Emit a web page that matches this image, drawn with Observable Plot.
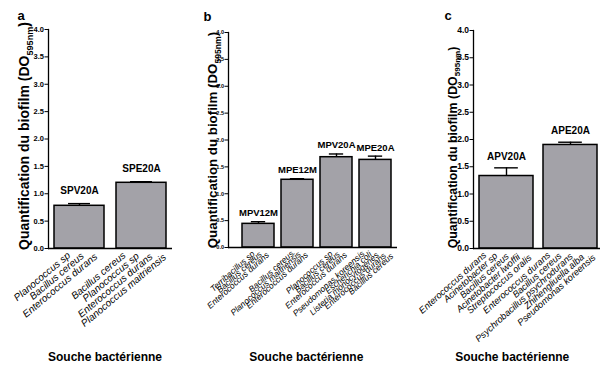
<!DOCTYPE html>
<html>
<head>
<meta charset="utf-8">
<script src="https://cdn.jsdelivr.net/npm/d3@7"></script>
<script src="https://cdn.jsdelivr.net/npm/@observablehq/plot@0.6"></script>
<style>
  html, body { margin: 0; padding: 0; background: #fff; }
  #wrap { position: relative; width: 611px; height: 370px; overflow: hidden; font-family: "Liberation Sans", Arial, sans-serif; }
  #wrap svg { position: absolute; top: 0; overflow: visible; }
</style>
</head>
<body>
<div id="wrap"></div>
<script>
// ---------- data ----------
const yTicks = [0, 0.5, 1, 1.5, 2, 2.5, 3, 3.5, 4];

const aCats = ["SPV20A", "SPE20A"];
const aValues = [0.78, 1.20];
const aErrors = [0.04, 0.02];
const aSpecies = [
  ["Planococcus sp", "Bacillus cereus", "Enterococcus durans"],
  ["Bacillus cereus", "Planococcus sp", "Enterococcus durans", "Planococcus maitriensis"]
];

const bCats = ["MPV12M", "MPE12M", "MPV20A", "MPE20A"];
const bValues = [0.44, 1.26, 1.68, 1.63];
const bErrors = [0.04, 0.02, 0.06, 0.07];
const bSpecies = [
  ["Terribacillus sp", "Bacillus cereus", "Enterococcus durans"],
  ["Bacillus cereus", "Planococcus maitriensis", "Enterococcus durans"],
  ["Planococcus sp", "Bacillus cereus", "Enterococcus durans"],
  ["Pseudomonas koreensis", "Escherichia coli", "Listeria monocytogenes", "Enterococcus durans", "Bacillus cereus"]
];

const cCats = ["APV20A", "APE20A"];
const cValues = [1.33, 1.90];
const cErrors = [0.15, 0.05];
const cSpecies = [
  ["Enterococcus durans", "Acinetobacter sp", "Bacillus cereus", "Acinetobacter lwoffii", "Streptococcus oralis"],
  ["Enterococcus durans", "Bacillus cereus", "Psychrobacillus psychrodurans", "Zhihengliuella alba", "Pseudomonas koreensis"]
];

const panelLetters = ["a", "b", "c"];
const xTitle = "Souche bactérienne";
const yTitleMain = "Quantification du biofilm (DO";
const yTitleSub = "595nm";
const yTitleEnd = ")";

// ---------- layout / style ----------
const FONT = "Liberation Sans, Arial, sans-serif";
const BAR_FILL = "#a3a2a8";

const panels = [
  {cats: aCats, values: aValues, errors: aErrors, species: aSpecies, letter: panelLetters[0],
   left: 0, width: 200, mL: 48, mR: 28, mT: 29, mB: 122, range: [53, 167], pin: 0.19,
   tickFont: 7.5, barFont: 10, barGap: 10, spFont: 10, spacing: 13.5, shift: 5, spDy: 8, rot: -40,
   yTitleX: 29, yTitleCy: 136, yTitleSize: 14, letterX: 17, letterY: 19, xTitleX: 104.5},
  {cats: bCats, values: bValues, errors: bErrors, species: bSpecies, letter: panelLetters[1],
   left: 200, width: 205, mL: 28, mR: 8, mT: 32, mB: 123, range: [41, 191], pin: 0.18,
   tickFont: 5.5, barFont: 9.5, barGap: 5.5, spFont: 8.5, spacing: 7.2, shift: 4, spDy: 7, rot: -42,
   yTitleX: 17, yTitleCy: 140, yTitleSize: 13.3, letterX: 3, letterY: 20, xTitleX: 105.8},
  {cats: cCats, values: cValues, errors: cErrors, species: cSpecies, letter: panelLetters[2],
   left: 405, width: 206, mL: 68, mR: 11, mT: 30, mB: 122, range: [73, 193], pin: 0.15,
   tickFont: 8.5, barFont: 10, barGap: 8, spFont: 9.25, spacing: 11.3, shift: 3, spDy: 7.5, rot: -42,
   yTitleX: 52, yTitleCy: 147.5, yTitleSize: 12.4, letterX: 39, letterY: 19.5, xTitleX: 106.7}
];

const wrap = document.getElementById("wrap");

for (const p of panels) {
  const data = p.cats.map((c, i) => ({cat: c, v: p.values[i], e: p.errors[i]}));
  const bw = (p.range[1] - p.range[0]) / (p.cats.length - p.pin) * (1 - p.pin);
  const capInset = bw * 0.275;

  // species label rows (one text mark per line)
  const speciesMarks = [];
  p.species.forEach((lines, gi) => {
    const n = lines.length;
    lines.forEach((line, li) => {
      speciesMarks.push(Plot.text([{cat: p.cats[gi], line}], {
        x: "cat", y: () => 0, text: "line",
        dx: (li - (n - 1) / 2) * p.spacing + p.shift,
        dy: p.spDy + li * 0.6,
        rotate: p.rot, textAnchor: "end", lineAnchor: "bottom",
        fontStyle: "italic", fontSize: p.spFont, fontFamily: FONT, fill: "#000"
      }));
    });
  });

  const chart = Plot.plot({
    width: p.width, height: 370,
    marginLeft: p.mL, marginRight: p.mR, marginTop: p.mT, marginBottom: p.mB,
    style: {background: "transparent", fontFamily: FONT, overflow: "visible"},
    x: {type: "band", domain: p.cats, range: p.range, paddingInner: p.pin, paddingOuter: 0, axis: null},
    y: {domain: [0, 4]},
    marks: [
      Plot.barY(data, {x: "cat", y: "v", fill: BAR_FILL, stroke: "#000", strokeWidth: 1.5}),
      Plot.ruleX(data, {x: "cat", y1: "v", y2: d => d.v + d.e, stroke: "#000", strokeWidth: 1.4}),
      Plot.tickY(data, {x: "cat", y: d => d.v + d.e, stroke: "#000", strokeWidth: 1.4, insetLeft: capInset, insetRight: capInset}),
      Plot.text(data, {x: "cat", y: d => d.v + d.e, text: "cat", dy: -p.barGap, lineAnchor: "bottom",
        fontWeight: "bold", fontSize: p.barFont, fontFamily: FONT, fill: "#000"}),
      Plot.axisY({ticks: yTicks, tickFormat: d3.format(".1f"), tickSize: 3.5, tickPadding: 1,
        fontSize: p.tickFont, fontWeight: "bold", fontFamily: FONT, label: null, stroke: "#000", color: "#000"}),
      Plot.frame({anchor: "left", stroke: "#000", strokeWidth: 1.3}),
      Plot.ruleY([0], {stroke: "#000", strokeWidth: 1.3}),
      ...speciesMarks,
      Plot.text([xTitle], {frameAnchor: "bottom-left", text: d => d, dx: p.xTitleX - p.mL, dy: 360 - (370 - p.mB),
        lineAnchor: "bottom", textAnchor: "middle", fontWeight: "bold", fontSize: 12, fontFamily: FONT, fill: "#000"}),
      Plot.text([p.letter], {frameAnchor: "top-left", text: d => d, dx: p.letterX - p.mL, dy: p.letterY - p.mT,
        lineAnchor: "bottom", textAnchor: "start", fontWeight: "bold", fontSize: 13, fontFamily: FONT, fill: "#000"})
    ]
  });
  chart.style.left = p.left + "px";

  // y-axis title with subscript
  const t = d3.select(chart).append("text")
    .attr("transform", "rotate(-90)")
    .attr("x", -p.yTitleCy)
    .attr("y", p.yTitleX)
    .attr("text-anchor", "middle")
    .attr("font-family", FONT)
    .attr("font-weight", "bold")
    .attr("font-size", p.yTitleSize)
    .attr("fill", "#000");
  t.append("tspan").text(yTitleMain);
  t.append("tspan").attr("font-size", p.yTitleSize * 0.65).attr("dy", p.yTitleSize * 0.28).text(yTitleSub);
  t.append("tspan").attr("dy", -p.yTitleSize * 0.28).text(yTitleEnd);

  wrap.appendChild(chart);
}
</script>
</body>
</html>
